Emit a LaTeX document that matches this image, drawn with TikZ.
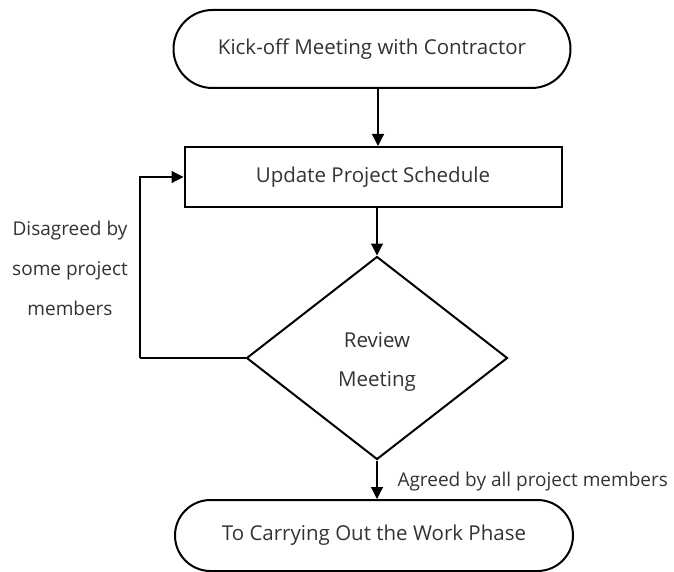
\documentclass[tikz,border=0pt]{standalone}
\usepackage{fontspec}
\setmainfont{Open Sans}
\usetikzlibrary{shapes.geometric,shapes.misc,arrows.meta}
\begin{document}
\begin{tikzpicture}[x=1pt,y=-1pt,
  every node/.style={font=\fontsize{20.5}{24}\selectfont, text=black!80},
  lbl/.style={font=\fontsize{19}{40}\selectfont, text=black!80},
  terminal/.style={draw, rounded rectangle, line width=2pt, inner sep=0pt},
  procbox/.style={draw, rectangle, line width=2pt, inner sep=0pt},
  decision/.style={draw, diamond, line width=2pt, inner sep=0pt},
  conn/.style={line width=1.2pt, -{Triangle[length=12pt,width=12pt]}},
  plain/.style={line width=1.2pt}]
\useasboundingbox (0,0) rectangle (674,572);
\node[terminal, minimum width=397pt, minimum height=78pt] (start) at (372,49) {Kick-off Meeting with Contractor};
\node[procbox, minimum width=377pt, minimum height=60pt] (upd) at (373,177) {Update Project Schedule};
\node[decision, minimum width=261pt, minimum height=203pt, aspect=1.285] (rev) at (377,358) {};
\node (revt1) at (377,340) {Review};
\node (revt2) at (377,381) {Meeting};
\node[terminal, minimum width=398pt, minimum height=71pt] (endn) at (374,535.5) {To Carrying Out the Work Phase};
\coordinate (c1) at (140,358);
\coordinate (a1) at (378,88);
\draw[conn] (a1) -- (a1 |- upd.north);
\draw[conn] (rev.north |- upd.south) -- (rev.north);
\draw[conn] (rev.south) -- (rev.south |- endn.north);
\draw[plain] (rev.west) -- (c1);
\draw[conn] (c1) |- (upd.west);
\node[lbl, anchor=west] (agr) at (394,482) {Agreed by all project members};
\node[lbl, align=center] (dis) at (70,268) {Disagreed by\\some project\\members};
\end{tikzpicture}
\end{document}
